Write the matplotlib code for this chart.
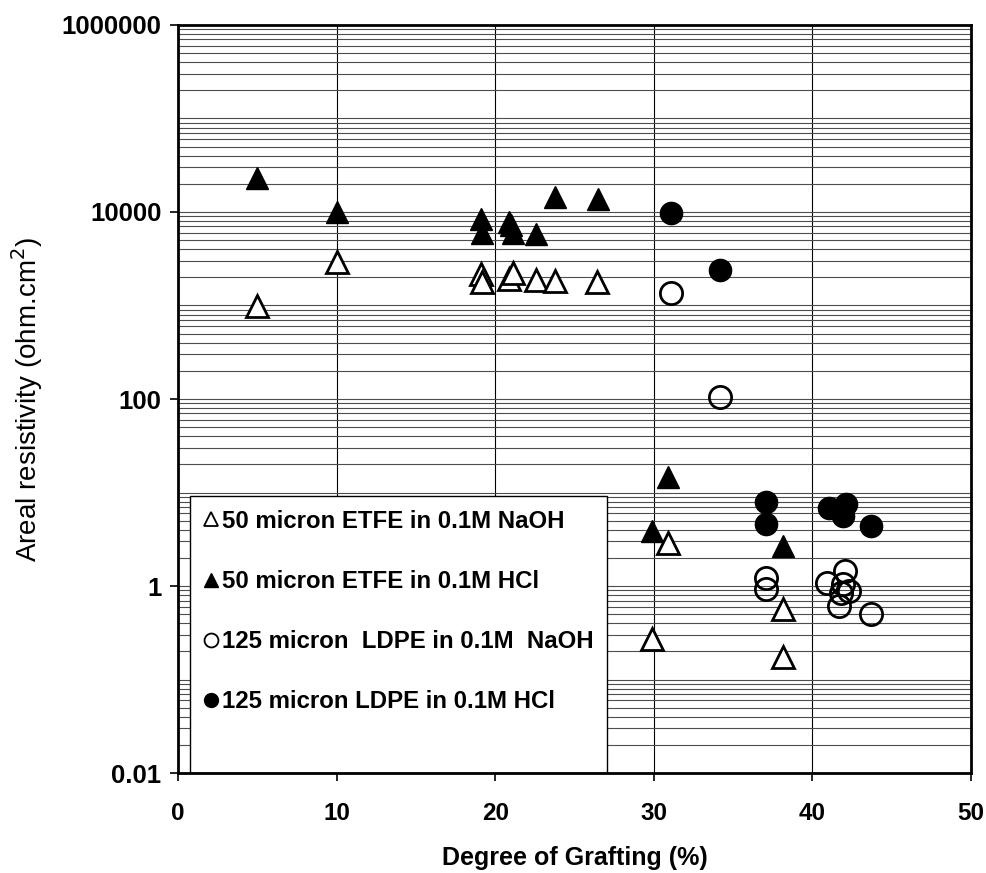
import numpy as np
import matplotlib
matplotlib.use("Agg")
from matplotlib import pyplot as plt
from matplotlib.patches import Rectangle
from matplotlib.lines import Line2D

# data
etfe_naoh_x = [5.0, 10.0, 19.1, 19.2, 20.85, 21.15, 22.6, 23.8, 26.4, 30.9, 29.9, 38.15, 38.15]
etfe_naoh_y = [980, 2950, 2190, 1780, 1940, 2230, 1860, 1830, 1780, 2.87, 0.268, 0.57, 0.173]

etfe_hcl_x = [5.0, 10.0, 19.1, 19.15, 20.85, 21.0, 21.15, 22.6, 23.8, 26.5, 30.9, 29.9, 38.15]
etfe_hcl_y = [23000, 10000, 8500, 5900, 7830, 7200, 5900, 5800, 14300, 13900, 14.5, 3.9, 2.7]

ldpe_naoh_x = [31.1, 34.15, 37.05, 37.05, 42.05, 40.95, 41.9, 42.3, 41.8, 41.7, 43.7]
ldpe_naoh_y = [1360, 106, 1.23, 0.92, 1.45, 1.08, 1.04, 0.88, 0.85, 0.61, 0.50]

ldpe_hcl_x = [31.1, 34.15, 37.05, 37.05, 41.05, 42.1, 41.9, 43.7]
ldpe_hcl_y = [9640, 2420, 7.9, 4.6, 6.9, 7.5, 5.6, 4.4]

series_labels = ["50 micron ETFE in 0.1M NaOH", "50 micron ETFE in 0.1M HCl",
                 "125 micron  LDPE in 0.1M  NaOH", "125 micron LDPE in 0.1M HCl"]

x_ticks = [0, 10, 20, 30, 40, 50]
y_ticks = [0.01, 1, 100, 10000, 1000000]
y_tick_labels = ["0.01", "1", "100", "10000", "1000000"]

fig = plt.figure(figsize=(9.87, 8.73), dpi=100)
ax = fig.add_axes([0.1803, 0.1145, 0.8035, 0.8569])

ax.set_yscale("log")
ax.set_xlim(0, 50)
ax.set_ylim(0.01, 1e6)

# grid: vertical at major x, horizontal at every 1..9 x 10^k
for xv in x_ticks[1:-1]:
    ax.axvline(xv, color="black", lw=0.8, zorder=1)
for k in range(-2, 6):
    for m in range(1, 10):
        v = m * 10.0 ** k
        if 0.01 < v < 1e6:
            ax.axhline(v, color="#4d4d4d", lw=0.8, zorder=1)

ax.set_xticks(x_ticks)
ax.set_xticklabels([str(t) for t in x_ticks])
ax.set_yticks(y_ticks)
ax.set_yticklabels(y_tick_labels)
ax.yaxis.set_minor_locator(matplotlib.ticker.NullLocator())

for lab in ax.get_yticklabels():
    lab.set_fontfamily("Liberation Sans")
    lab.set_fontweight("bold")
    lab.set_fontsize(18.5)
for lab in ax.get_xticklabels():
    lab.set_fontfamily("Liberation Sans")
    lab.set_fontweight("bold")
    lab.set_fontsize(17.5)
ax.tick_params(axis="both", direction="out", length=6, width=1.2, color="black")
ax.tick_params(axis="x", pad=15)
ax.tick_params(axis="y", pad=6)

for s in ax.spines.values():
    s.set_linewidth(2)
    s.set_color("black")
    s.set_zorder(6)

ms = 16
ax.plot(etfe_naoh_x, etfe_naoh_y, ls="none", marker="^", ms=ms, mfc="white", mec="black", mew=2, zorder=7)
ax.plot(etfe_hcl_x, etfe_hcl_y, ls="none", marker="^", ms=ms, mfc="black", mec="black", mew=1, zorder=7)
ax.plot(ldpe_naoh_x, ldpe_naoh_y, ls="none", marker="o", ms=ms, mfc="none", mec="black", mew=2, zorder=7)
ax.plot(ldpe_hcl_x, ldpe_hcl_y, ls="none", marker="o", ms=ms, mfc="black", mec="black", mew=1, zorder=7)

ax.set_xlabel("Degree of Grafting (%)", fontsize=18, fontweight="bold", family="Liberation Sans", labelpad=15)
ax.set_ylabel("Areal resistivity (ohm.cm$^2$)", fontsize=20, family="Liberation Sans", labelpad=12)

# legend box drawn separately, legend entries without frame
ax.add_patch(Rectangle((0.0151, 0.0), 0.526, 0.371, transform=ax.transAxes,
                       facecolor="white", edgecolor="black", lw=1, zorder=4))
handles = [
    Line2D([], [], ls="none", marker="^", ms=10, mfc="white", mec="black", mew=1.3),
    Line2D([], [], ls="none", marker="^", ms=10, mfc="black", mec="black"),
    Line2D([], [], ls="none", marker="o", ms=10, mfc="white", mec="black", mew=1.3),
    Line2D([], [], ls="none", marker="o", ms=10, mfc="black", mec="black"),
]
leg = ax.legend(handles, series_labels, loc="upper left", bbox_to_anchor=(0.0328, 0.352),
                frameon=False, borderpad=0, borderaxespad=0, handlelength=0.6,
                handletextpad=0.15, labelspacing=1.55,
                prop={"family": "Liberation Sans", "weight": "bold", "size": 17.3})
leg.set_zorder(5)

fig.savefig("out.png", dpi=100)
